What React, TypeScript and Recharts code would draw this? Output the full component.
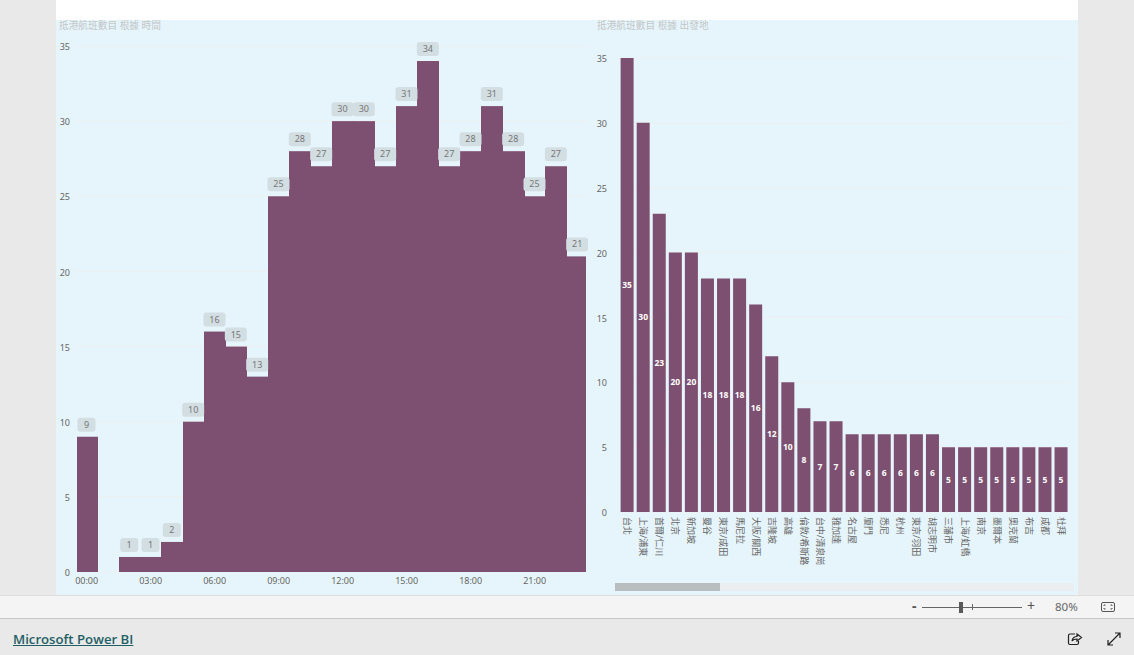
import { BarChart, Bar, XAxis, YAxis, CartesianGrid, LabelList } from "recharts";

const HOURS = [
  "00:00", "01:00", "02:00", "03:00", "04:00", "05:00", "06:00", "07:00",
  "08:00", "09:00", "10:00", "11:00", "12:00", "13:00", "14:00", "15:00",
  "16:00", "17:00", "18:00", "19:00", "20:00", "21:00", "22:00", "23:00",
];
const HOUR_COUNTS = [9, 0, 1, 1, 2, 10, 16, 15, 13, 25, 28, 27, 30, 30, 27, 31, 34, 27, 28, 31, 28, 25, 27, 21];

const ORIGINS = [
  "台北", "上海/浦東", "首爾/仁川", "北京", "新加坡", "曼谷", "東京/成田", "馬尼拉", "大阪/關西", "吉隆坡",
  "高雄", "倫敦/希斯路", "台中/清泉崗", "雅加達", "名古屋", "廈門", "悉尼", "杭州", "東京/羽田", "胡志明市",
  "三藩市", "上海/虹橋", "南京", "墨爾本", "奧克蘭", "布吉", "成都", "杜拜",
];
const ORIGIN_COUNTS = [35, 30, 23, 20, 20, 18, 18, 18, 16, 12, 10, 8, 7, 7, 6, 6, 6, 6, 6, 6, 5, 5, 5, 5, 5, 5, 5, 5];

const Y_TICKS = [0, 5, 10, 15, 20, 25, 30, 35];

const hourData = HOURS.map((hour, i) => ({ hour, value: HOUR_COUNTS[i] }));
const originData = ORIGINS.map((origin, i) => ({ origin, value: ORIGIN_COUNTS[i] }));

const PURPLE = "#7D4F70";
const FONT = "'Noto Sans', 'Noto Sans CJK TC', sans-serif";
const tickStyle = { fontSize: 9, fill: "#666666", fontFamily: FONT };
const yTickStyle = { ...tickStyle, dy: 1 };

const abs = (left: number, top: number, width: number, height: number, background?: string) => ({
  position: "absolute" as const, left, top, width, height, background,
});

// recharts floors the bar width, so close the seams between touching hour bars;
// the outer two get trimmed by the visual's frame
const HourBar = (props: any) => {
  const { x, y, width, height } = props;
  if (!height) return null;
  const left = Math.max(Math.round(x), 21);
  const right = Math.min(Math.ceil(x + width + 0.34), 530);
  return <rect x={left} y={y} width={right - left} height={height} fill={PURPLE} />;
};

// grey pill above each hour bar, skipped when the hour has no flights
const PillLabel = (props: any) => {
  const { x, y, width, value } = props;
  if (!value) return null;
  const cx = x + width / 2;
  const w = value > 9 ? 22 : 18;
  return (
    <g>
      <rect x={cx - w / 2} y={y - 19} width={w} height={14} rx={3} fill="#D2DEE2" />
      <text x={cx} y={y - 9} textAnchor="middle" fontSize={9} fill="#777777" fontFamily={FONT}>{value}</text>
    </g>
  );
};

const InnerLabel = (props: any) => {
  const { x, y, width, height, value } = props;
  return (
    <text x={x + width / 2} y={y + height / 2 + 3} textAnchor="middle" fontSize={8.5} fontWeight={700} fill="#FFFFFF" fontFamily={FONT}>
      {value}
    </text>
  );
};

const VerticalTick = (props: any) => {
  const { x, y, payload } = props;
  return (
    <text transform={`translate(${x - 3},${y - 3}) rotate(90)`} textAnchor="start" fontSize={9} fill="#666666" fontFamily={FONT}>
      {payload.value}
    </text>
  );
};

const Title = ({ left, text }: { left: number; text: string }) => (
  <div style={{ ...abs(left, 19, 300, 14), fontSize: 9.7, lineHeight: "14px", color: "#C4C7C8", fontFamily: FONT }}>{text}</div>
);

export default function App() {
  return (
    <div style={{ ...abs(0, 0, 1134, 655, "#E9E9E9"), overflow: "hidden" }}>
      <div style={abs(56, 0, 1022, 20, "#FFFFFF")} />
      <div style={abs(56, 20, 1022, 575, "#E6F5FB")} />

      <Title left={59} text="抵港航班數目 根據 時間" />
      <Title left={597} text="抵港航班數目 根據 出發地" />

      <div style={abs(56, 20, 532, 575)}>
        <BarChart width={532} height={575} data={hourData} margin={{ top: 26, right: 0, bottom: 0, left: 0 }} barCategoryGap={0}>
          <CartesianGrid vertical={false} stroke="#ECEFF1" />
          <XAxis dataKey="hour" interval={2} axisLine={false} tickLine={false} tick={tickStyle} height={23} tickMargin={0} />
          <YAxis domain={[0, 35]} ticks={Y_TICKS} width={20} axisLine={false} tickLine={false} tick={yTickStyle} tickMargin={0} />
          <Bar dataKey="value" fill={PURPLE} shape={HourBar} isAnimationActive={false}>
            <LabelList dataKey="value" content={PillLabel} />
          </Bar>
        </BarChart>
      </div>

      <div style={abs(596, 20, 482, 575)}>
        <BarChart width={482} height={575} data={originData} margin={{ top: 38, right: 9, bottom: 0, left: 0 }} barCategoryGap="10%">
          <CartesianGrid vertical={false} stroke="#ECEFF1" />
          <XAxis dataKey="origin" interval={0} axisLine={false} tickLine={false} tick={<VerticalTick />} height={83} />
          <YAxis domain={[0, 35]} ticks={Y_TICKS} width={23} axisLine={false} tickLine={false} tick={yTickStyle} tickMargin={6} />
          <Bar dataKey="value" fill={PURPLE} isAnimationActive={false}>
            <LabelList dataKey="value" content={InnerLabel} />
          </Bar>
        </BarChart>
      </div>

      {/* scrollbar under the origin chart */}
      <div style={abs(615, 583, 459, 8, "#EAEEF0")} />
      <div style={abs(615, 583, 105, 8, "#B8BDBF")} />

      {/* report page chrome */}
      <div style={abs(0, 595, 1134, 23, "#F4F4F4")} />
      <div style={abs(0, 595, 1134, 1, "#DEDEDE")} />
      <div style={abs(0, 618, 1134, 1, "#C8C8C8")} />
      <div style={{ ...abs(13, 629, 200, 20), fontSize: 13.2, lineHeight: "20px", color: "#1F5F66", textDecoration: "underline", fontFamily: "'Open Sans', sans-serif", fontWeight: 600 }}>
        Microsoft Power BI
      </div>

      <div style={{ ...abs(912, 598, 10, 16), fontSize: 14, lineHeight: "16px", color: "#555555", fontFamily: FONT, fontWeight: 700 }}>-</div>
      <div style={abs(922, 607, 100, 1, "#666666")} />
      <div style={abs(972, 604, 1, 6, "#666666")} />
      <div style={abs(959, 602, 4, 11, "#5A5A5A")} />
      <div style={{ ...abs(1027, 598, 12, 16), fontSize: 14, lineHeight: "16px", color: "#555555", fontFamily: FONT }}>+</div>
      <div style={{ ...abs(1055, 599, 30, 16), fontSize: 11.5, lineHeight: "16px", color: "#666666", fontFamily: FONT }}>80%</div>
      <svg style={abs(1100, 601, 16, 12)} viewBox="0 0 16 12" fill="none" stroke="#555555">
        <rect x="1.5" y="1.5" width="13" height="9" rx="1.5" />
        <path d="M4 5V4H5.5M10.5 4H12V5M12 7V8H10.5M5.5 8H4V7" />
      </svg>
      <svg style={abs(1067, 631, 16, 16)} viewBox="0 0 16 16" fill="none" stroke="#222222" strokeWidth="1.2">
        <path d="M8 3H3A1.5 1.5 0 0 0 1.5 4.5V12A1.5 1.5 0 0 0 3 13.5H10A1.5 1.5 0 0 0 11.5 12V10" />
        <path d="M5 10C5.5 7 8 5.5 10 5.5V3L14.5 6.5L10 10V8C8 8 6 8.5 5 10Z" />
      </svg>
      <svg style={abs(1107, 632, 14, 14)} viewBox="0 0 14 14" fill="none" stroke="#222222" strokeWidth="1.2">
        <path d="M1 13L13 1M8 1H13V6M1 8V13H6" />
      </svg>
    </div>
  );
}
